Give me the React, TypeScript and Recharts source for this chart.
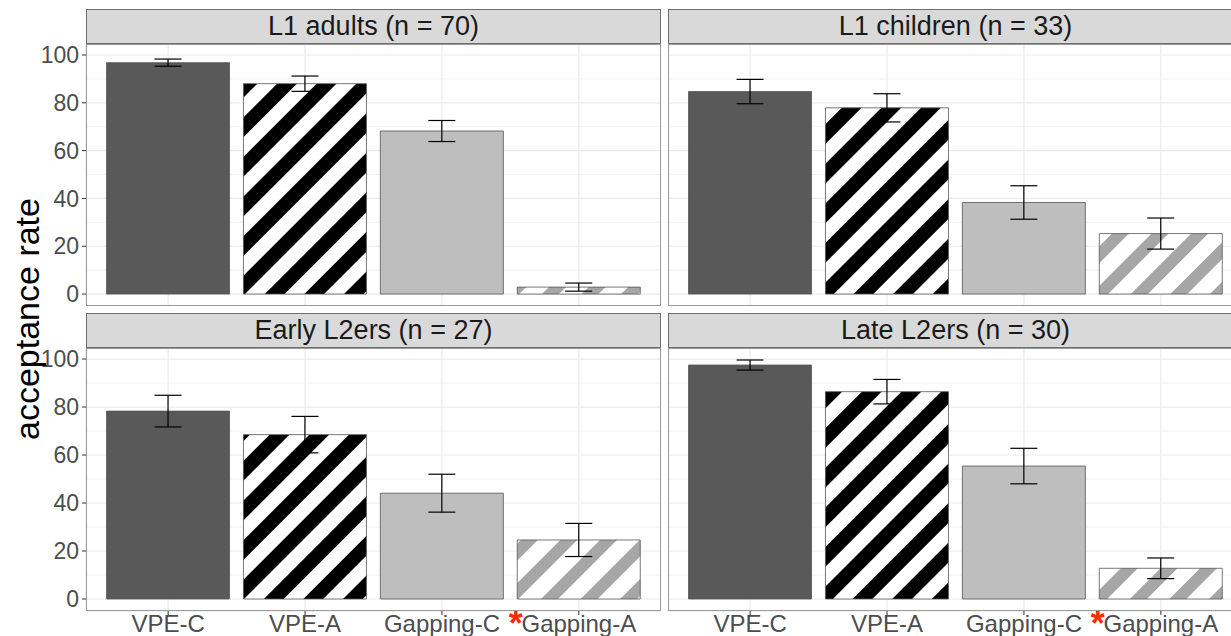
import React from "react";
import { BarChart, Bar, XAxis, YAxis, CartesianGrid, ErrorBar, Cell } from "recharts";

const categories = ["VPE-C", "VPE-A", "Gapping-C", "Gapping-A"];
const panelTitles = ["L1 adults (n = 70)", "L1 children (n = 33)", "Early L2ers (n = 27)", "Late L2ers (n = 30)"];
const l1AdultsMean = [96.8, 88.0, 68.2, 2.9];
const l1AdultsSe = [1.5, 3.2, 4.4, 1.7];
const l1ChildrenMean = [84.7, 77.9, 38.3, 25.3];
const l1ChildrenSe = [5.1, 5.9, 7.0, 6.5];
const earlyL2Mean = [78.3, 68.5, 44.1, 24.6];
const earlyL2Se = [6.6, 7.6, 7.9, 6.9];
const lateL2Mean = [97.5, 86.4, 55.4, 12.8];
const lateL2Se = [2.1, 5.1, 7.4, 4.3];
const majorTicks = [0, 20, 40, 60, 80, 100];
const minorTicks = [10, 30, 50, 70, 90];
const yDomain: [number, number] = [-5, 104.6];

const fills = ["#595959", "url(#stripeBlack)", "#BEBEBE", "url(#stripeGray)"];
const FONT = "'Liberation Sans', Arial, Helvetica, sans-serif";

const build = (m: number[], s: number[]) => categories.map((c, i) => ({ cat: c, value: m[i], se: s[i] }));

const panelsData = [
  build(l1AdultsMean, l1AdultsSe),
  build(l1ChildrenMean, l1ChildrenSe),
  build(earlyL2Mean, earlyL2Se),
  build(lateL2Mean, lateL2Se),
];

const XTick = (props: any) => {
  const { x, y, payload } = props;
  const v = payload.value;
  return (
    <g transform={`translate(${x},${y})`}>
      <text textAnchor="middle" dy="0.71em" fill="#4D4D4D" fontSize={24} fontFamily={FONT}>{v}</text>
      {v === "Gapping-A" && (
        <text x={-56} y={21} textAnchor="end" fill="#FF2A00" fontSize={36} fontWeight="bold" fontFamily={FONT}>*</text>
      )}
    </g>
  );
};

// plot area geometry
const PL = 86, PR = 661, QL = 668;
const TOP_Y = 44, TOP_H = 262, BOT_Y = 348, BOT_H = 263, XAXIS_H = 25;
const band = (PR - PL) / 4.2;

function Panel({ idx, left, top, showY, showX }: { idx: number; left: number; top: number; showY: boolean; showX: boolean }) {
  const plotW = PR - PL;
  const w = plotW + (showY ? PL : 0);
  const h = (showX ? BOT_H : TOP_H) + (showX ? XAXIS_H : 0);
  return (
    <div style={{ position: "absolute", left, top }}>
      <BarChart width={w} height={h} data={panelsData[idx]} margin={{ top: 0, right: 0, bottom: 0, left: 0 }} barCategoryGap="5%">
        <XAxis
          dataKey="cat"
          type="category"
          hide={!showX}
          height={XAXIS_H}
          padding={{ left: band * 0.1, right: band * 0.1 }}
          axisLine={false}
          tickLine={{ stroke: "#333333" }}
          tickSize={4}
          tickMargin={0}
          tick={<XTick />}
          interval={0}
        />
        <YAxis
          yAxisId="main"
          type="number"
          domain={yDomain}
          allowDataOverflow
          ticks={majorTicks}
          interval={0}
          hide={!showY}
          width={PL}
          axisLine={false}
          tickLine={{ stroke: "#333333" }}
          tickSize={4}
          tickMargin={3}
          tick={{ fill: "#4D4D4D", fontSize: 23, fontFamily: FONT }}
        />
        <YAxis yAxisId="minor" type="number" domain={yDomain} allowDataOverflow ticks={minorTicks} interval={0} hide />
        <CartesianGrid yAxisId="minor" vertical={false} stroke="#F2F2F2" strokeWidth={1} />
        <CartesianGrid yAxisId="main" stroke="#EBEBEB" strokeWidth={1.2} />
        <Bar yAxisId="main" dataKey="value" isAnimationActive={false} stroke="#555555" strokeWidth={0.8}>
          {panelsData[idx].map((d, i) => (
            <Cell key={d.cat} fill={fills[i]} />
          ))}
          <ErrorBar dataKey="se" width={13.5} stroke="#000000" strokeWidth={1.2} direction="y" />
        </Bar>
      </BarChart>
      <div
        style={{
          position: "absolute",
          left: showY ? PL : 0,
          top: 0,
          width: plotW,
          height: showX ? BOT_H : TOP_H,
          boxSizing: "border-box",
          border: "1px solid #9A9A9A",
          pointerEvents: "none",
        }}
      />
    </div>
  );
}

function Strip({ idx, left, top }: { idx: number; left: number; top: number }) {
  return (
    <div
      style={{
        position: "absolute",
        left,
        top,
        width: PR - PL,
        height: 35,
        boxSizing: "border-box",
        background: "#D9D9D9",
        border: "1px solid #6E6E6E",
        display: "flex",
        alignItems: "center",
        justifyContent: "center",
        fontFamily: FONT,
        fontSize: 27,
        lineHeight: "33px",
        color: "#1A1A1A",
        whiteSpace: "nowrap",
      }}
    >
      {panelTitles[idx]}
    </div>
  );
}

export default function App() {
  return (
    <div style={{ position: "absolute", left: 0, top: 0, width: 1231, height: 636, overflow: "hidden", background: "#FFFFFF" }}>
      <svg width={0} height={0} style={{ position: "absolute" }}>
        <defs>
          <pattern id="stripeBlack" patternUnits="userSpaceOnUse" width={28} height={28} patternTransform="rotate(45)">
            <rect x={0} y={0} width={28} height={28} fill="#FFFFFF" />
            <rect x={0} y={0} width={14} height={28} fill="#000000" />
          </pattern>
          <pattern id="stripeGray" patternUnits="userSpaceOnUse" width={28} height={28} patternTransform="rotate(45)">
            <rect x={0} y={0} width={28} height={28} fill="#FFFFFF" />
            <rect x={0} y={0} width={12} height={28} fill="#A6A6A6" />
          </pattern>
        </defs>
      </svg>
      <Strip idx={0} left={PL} top={9} />
      <Strip idx={1} left={QL} top={9} />
      <Strip idx={2} left={PL} top={313} />
      <Strip idx={3} left={QL} top={313} />
      <Panel idx={0} left={0} top={TOP_Y} showY showX={false} />
      <Panel idx={1} left={QL} top={TOP_Y} showY={false} showX={false} />
      <Panel idx={2} left={0} top={BOT_Y} showY showX />
      <Panel idx={3} left={QL} top={BOT_Y} showY={false} showX />
      <svg width={50} height={636} style={{ position: "absolute", left: 0, top: 0 }}>
        <text
          transform="translate(39,319) rotate(-90)"
          textAnchor="middle"
          fontFamily={FONT}
          fontSize={34}
          fill="#000000"
        >
          acceptance rate
        </text>
      </svg>
    </div>
  );
}
